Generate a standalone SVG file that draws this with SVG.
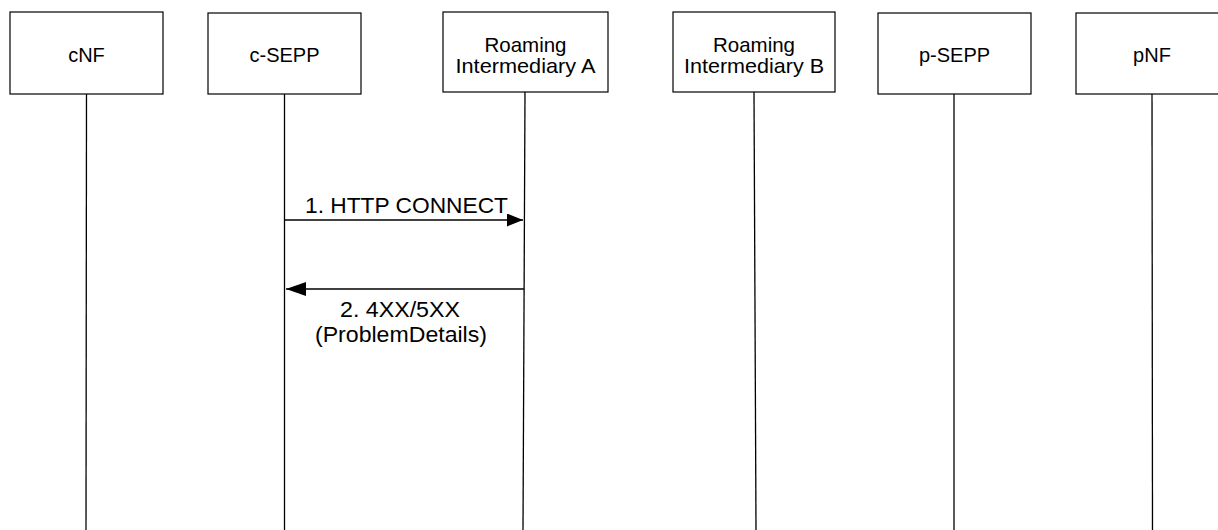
<svg xmlns="http://www.w3.org/2000/svg" width="1218" height="530" viewBox="0 0 1218 530">
<style>
.box{fill:#fff;stroke:#000;stroke-width:1.2}
.life{stroke:#000;stroke-width:1.3;fill:none}
.msg{stroke:#000;stroke-width:1.3;fill:none}
.t{font-family:"Liberation Sans",Arial,sans-serif;font-size:20px;fill:#000;text-anchor:middle}
.r{font-size:21px}
.m{font-family:"Liberation Sans",Arial,sans-serif;font-size:22px;fill:#000}
</style>
<defs>
<marker id="ah1" markerUnits="userSpaceOnUse" markerWidth="18" markerHeight="14" refX="16" refY="6.5" orient="auto">
<polygon points="0,0 16,6.5 0,13" fill="#000"/>
</marker>
<marker id="ah2" markerUnits="userSpaceOnUse" markerWidth="22" markerHeight="16" refX="20" refY="7" orient="auto">
<polygon points="0,0 20,7 0,14" fill="#000"/>
</marker>
</defs>
<rect width="1218" height="530" fill="#fff"/>
<g id="lifelines">
<line class="life" x1="86.5" y1="94" x2="86" y2="530"/>
<line class="life" x1="284.5" y1="94" x2="284.5" y2="530"/>
<line class="life" x1="525" y1="92" x2="523" y2="530"/>
<line class="life" x1="754" y1="92" x2="756" y2="530"/>
<line class="life" x1="954" y1="94" x2="954" y2="530"/>
<line class="life" x1="1152" y1="94" x2="1152.5" y2="530"/>
</g>
<g id="cNF"><rect class="box" x="10" y="12" width="153" height="82"/><text class="t" x="86.5" y="62">cNF</text></g>
<g id="c-SEPP"><rect class="box" x="208" y="13" width="153" height="81"/><text class="t" x="284.5" y="62">c-SEPP</text></g>
<g id="RI-A"><rect class="box" x="443" y="12" width="165" height="80"/><text class="t r" x="525.5" y="52" textLength="82" lengthAdjust="spacingAndGlyphs">Roaming</text><text class="t r" x="525.5" y="73" textLength="140" lengthAdjust="spacingAndGlyphs">Intermediary A</text></g>
<g id="RI-B"><rect class="box" x="673" y="12" width="162" height="80"/><text class="t r" x="754" y="52" textLength="82" lengthAdjust="spacingAndGlyphs">Roaming</text><text class="t r" x="754" y="73" textLength="140" lengthAdjust="spacingAndGlyphs">Intermediary B</text></g>
<g id="p-SEPP"><rect class="box" x="878" y="13" width="153" height="81"/><text class="t" x="954.5" y="62">p-SEPP</text></g>
<g id="pNF"><rect class="box" x="1076" y="13" width="153" height="81"/><text class="t" x="1152" y="62">pNF</text></g>
<g id="connectors">
<line class="msg" x1="284.5" y1="220" x2="523" y2="220" marker-end="url(#ah1)"/>
<text class="m" x="305" y="213" textLength="203" lengthAdjust="spacingAndGlyphs">1. HTTP CONNECT</text>
<line class="msg" x1="524" y1="289" x2="286" y2="289" marker-end="url(#ah2)"/>
<text class="m" x="340" y="317" textLength="120" lengthAdjust="spacingAndGlyphs">2. 4XX/5XX</text>
<text class="m" x="315" y="342" textLength="172" lengthAdjust="spacingAndGlyphs">(ProblemDetails)</text>
</g>
</svg>
